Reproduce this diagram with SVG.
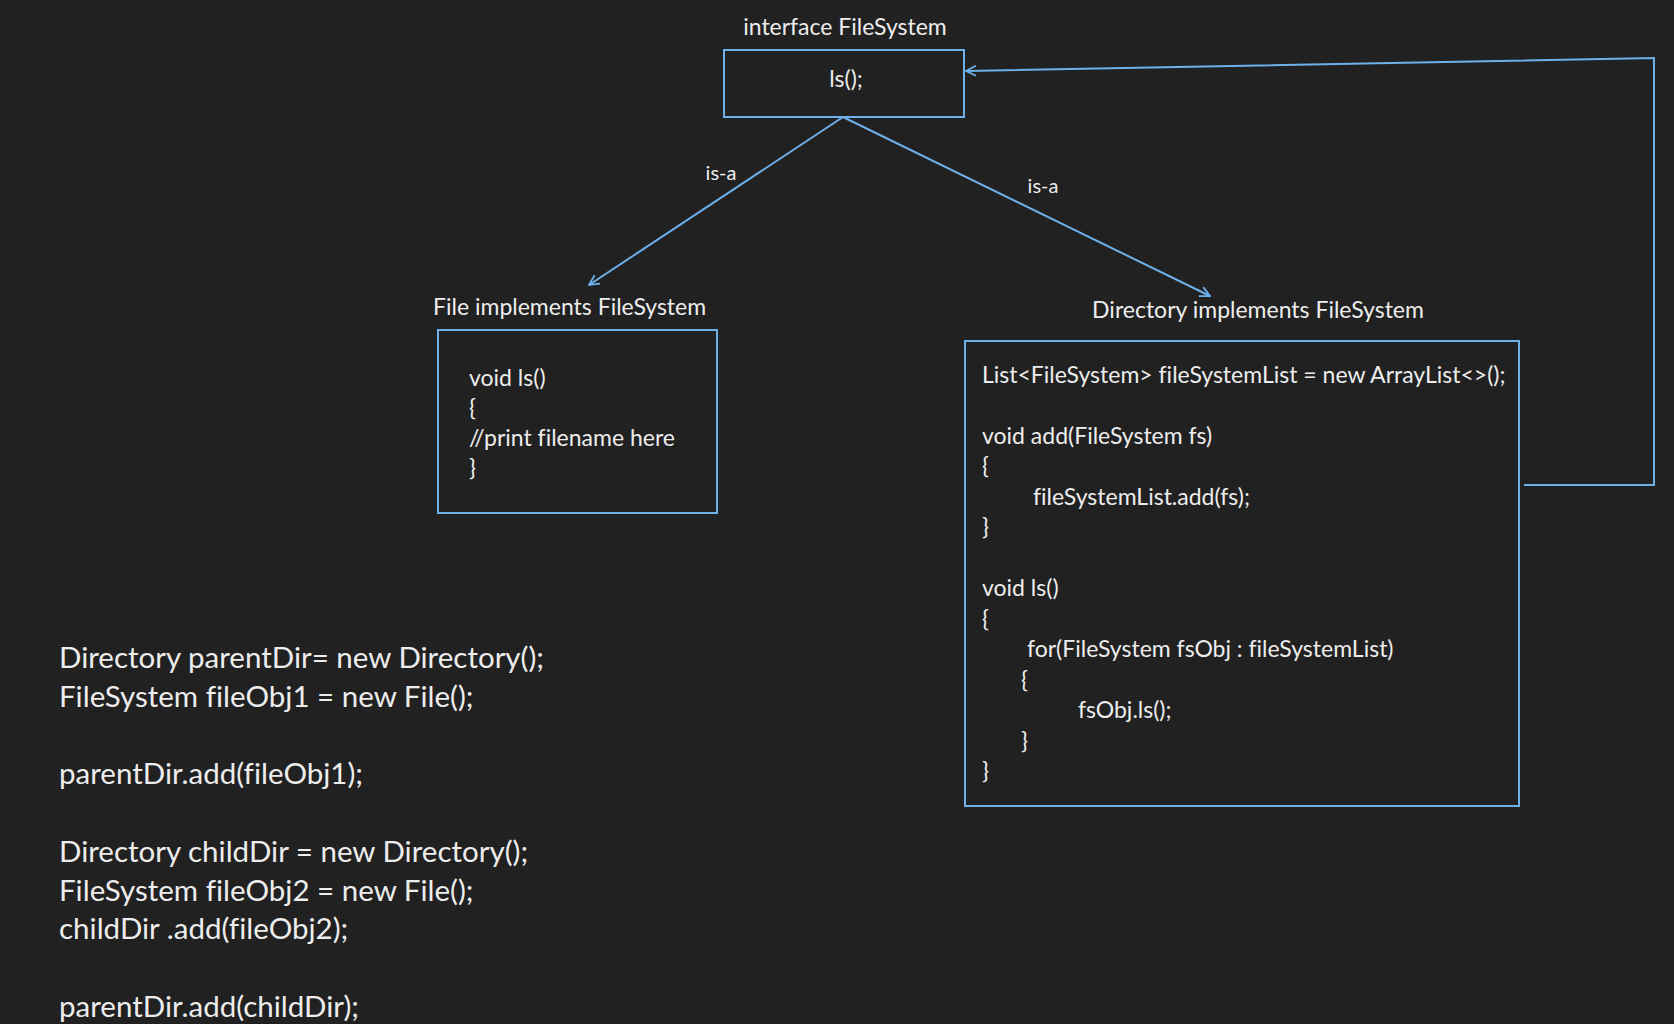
<svg xmlns="http://www.w3.org/2000/svg" width="1674" height="1024" viewBox="0 0 1674 1024">
<defs>
<marker id="arr" viewBox="0 0 12 12" refX="11" refY="6" markerWidth="12" markerHeight="12" markerUnits="userSpaceOnUse" orient="auto">
<path d="M1,1 L11,6 L1,11" fill="none" stroke="#6eb0ea" stroke-width="1.8"/>
</marker>
<style>
.bg{fill:#212121}
.box{fill:none;stroke:#6eb0ea;stroke-width:2}
.ln{fill:none;stroke:#6eb0ea;stroke-width:2}
text{font-family:Lato,"Open Sans",sans-serif;fill:#ededed;font-variant-ligatures:none}
.t{font-size:23px}
.s{font-size:20px}
.c{font-size:23px}
.b{font-size:29.5px}
.m{text-anchor:middle}
</style>
</defs>
<rect class="bg" x="0" y="0" width="1674" height="1024"/>
<g id="connectors">
<path class="ln" d="M843,117 L589,285" marker-end="url(#arr)"/>
<path class="ln" d="M843,117 L1210,296" marker-end="url(#arr)"/>
<path class="ln" d="M1524,485 L1654,485 L1654,58 L966,71" marker-end="url(#arr)"/>
<text class="s m" x="721" y="180">is-a</text>
<text class="s m" x="1043" y="193">is-a</text>
</g>
<g id="interface">
<text class="t m" x="845" y="35">interface FileSystem</text>
<rect class="box" x="724" y="50" width="240" height="67"/>
<text class="t m" x="846" y="87">ls();</text>
</g>
<g id="file">
<text class="t" x="433" y="315">File implements FileSystem</text>
<rect class="box" x="438" y="330" width="279" height="183"/>
<text class="c" x="469" y="386">void ls()</text>
<text class="c" x="469" y="416">{</text>
<text class="c" x="469" y="446">//print filename here</text>
<text class="c" x="469" y="476">}</text>
</g>
<g id="directory">
<text class="t m" x="1258" y="318">Directory implements FileSystem</text>
<rect class="box" x="965" y="341" width="554" height="465"/>
<text class="c" x="982" y="383">List&lt;FileSystem&gt; fileSystemList = new ArrayList&lt;&gt;();</text>
<text class="c" x="982" y="444">void add(FileSystem fs)</text>
<text class="c" x="982" y="474">{</text>
<text class="c" x="1033" y="505">fileSystemList.add(fs);</text>
<text class="c" x="982" y="535">}</text>
<text class="c" x="982" y="596">void ls()</text>
<text class="c" x="982" y="627">{</text>
<text class="c" x="1027" y="657">for(FileSystem fsObj : fileSystemList)</text>
<text class="c" x="1021" y="688">{</text>
<text class="c" x="1078" y="718">fsObj.ls();</text>
<text class="c" x="1021" y="749">}</text>
<text class="c" x="982" y="779">}</text>
</g>
<g id="client-code">
<text class="b" x="59" y="668">Directory parentDir= new Directory();</text>
<text class="b" x="59" y="707">FileSystem fileObj1 = new File();</text>
<text class="b" x="59" y="784">parentDir.add(fileObj1);</text>
<text class="b" x="59" y="862">Directory childDir = new Directory();</text>
<text class="b" x="59" y="901">FileSystem fileObj2 = new File();</text>
<text class="b" x="59" y="939">childDir .add(fileObj2);</text>
<text class="b" x="59" y="1017">parentDir.add(childDir);</text>
</g>
</svg>
